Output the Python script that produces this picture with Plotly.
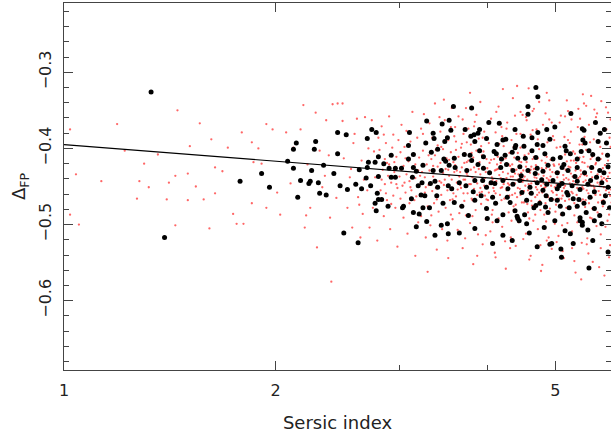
import plotly.graph_objects as go

# ---- data (Sersic index n, Delta_FP) ----
red_a = [(1.45,-0.350),(1.19,-0.368),(1.56,-0.367),(1.04,-0.434),(1.13,-0.443),(1.02,-0.375),(1.30,-0.420),(1.28,-0.443),(1.32,-0.451),(1.27,-0.466),
(1.05,-0.500),(1.02,-0.487),(1.40,-0.467),(1.44,-0.501),(1.36,-0.408),(1.22,-0.403),(1.41,-0.445),(1.50,-0.433),(1.44,-0.436),(1.51,-0.397),
(1.54,-0.450),(1.50,-0.468),(1.62,-0.388),(1.61,-0.505),(1.58,-0.467),(1.64,-0.425),(1.64,-0.459),(1.68,-0.430),(1.71,-0.399),(1.74,-0.486),
(1.76,-0.499),(1.79,-0.379),(1.85,-0.392),(1.86,-0.418),(1.80,-0.499),(1.85,-0.472),(1.89,-0.400),(1.91,-0.420),(1.94,-0.368),(1.94,-0.478),
(1.98,-0.375),(2.01,-0.458),(2.03,-0.487),(2.07,-0.379),(2.10,-0.446),(2.12,-0.399),(2.17,-0.375),(2.19,-0.343),(2.20,-0.504),(2.21,-0.488),
(2.24,-0.478),(2.29,-0.530),(2.28,-0.353),(2.31,-0.403),(2.33,-0.451),(2.36,-0.363),(2.39,-0.491),(2.40,-0.575),(2.41,-0.342),(2.45,-0.341),
(2.49,-0.364),(2.50,-0.413),(2.49,-0.341),(2.53,-0.478),(2.55,-0.438),(2.57,-0.504),(2.58,-0.393),(2.61,-0.361),(2.62,-0.464),(2.64,-0.517),
(2.65,-0.416),(2.66,-0.486),(2.68,-0.359),(2.70,-0.455),(2.71,-0.400),(2.72,-0.504),(2.74,-0.363),(2.75,-0.478),(2.77,-0.438),(2.79,-0.521),
(2.80,-0.386),(2.22,-0.421),(2.35,-0.436),(2.44,-0.465),(2.56,-0.427),(2.67,-0.441),(2.59,-0.381),(2.38,-0.409),(2.76,-0.404),(2.63,-0.474)]

red_b = [(2.81,-0.402),(2.82,-0.455),(2.83,-0.371),(2.84,-0.428),(2.85,-0.489),(2.86,-0.414),(2.86,-0.447),(2.87,-0.393),(2.88,-0.468),(2.89,-0.436),
(2.90,-0.358),(2.90,-0.421),(2.91,-0.506),(2.92,-0.445),(2.93,-0.399),(2.94,-0.462),(2.94,-0.382),(2.95,-0.431),(2.96,-0.478),(2.97,-0.411),
(2.98,-0.529),(2.98,-0.452),(2.99,-0.389),(3.00,-0.437),(3.01,-0.466),(3.01,-0.405),(3.02,-0.369),(3.03,-0.449),(3.04,-0.491),(3.04,-0.423),
(3.05,-0.398),(3.06,-0.458),(3.07,-0.434),(3.07,-0.377),(3.08,-0.512),(3.09,-0.417),(3.10,-0.472),(3.10,-0.443),(3.11,-0.391),(3.12,-0.455),
(3.13,-0.352),(3.13,-0.426),(3.14,-0.484),(3.15,-0.408),(3.16,-0.439),(3.16,-0.541),(3.17,-0.463),(3.18,-0.386),(3.19,-0.429),(3.19,-0.497),
(2.83,-0.441),(2.88,-0.419),(2.92,-0.473),(2.97,-0.447),(3.02,-0.428),(3.06,-0.413),(3.11,-0.451),(3.15,-0.468),(2.85,-0.382),(3.09,-0.395)]

red_c = [(3.20,-0.412),(3.21,-0.447),(3.22,-0.374),(3.22,-0.489),(3.23,-0.431),(3.24,-0.403),(3.25,-0.462),(3.25,-0.355),(3.26,-0.438),(3.27,-0.517),
(3.28,-0.421),(3.28,-0.392),(3.29,-0.476),(3.30,-0.448),(3.31,-0.367),(3.31,-0.429),(3.32,-0.501),(3.33,-0.414),(3.34,-0.456),(3.34,-0.386),
(3.35,-0.437),(3.36,-0.472),(3.37,-0.341),(3.37,-0.409),(3.38,-0.452),(3.39,-0.533),(3.40,-0.424),(3.40,-0.396),(3.41,-0.483),(3.42,-0.443),
(3.43,-0.378),(3.43,-0.419),(3.44,-0.461),(3.45,-0.506),(3.46,-0.432),(3.46,-0.401),(3.47,-0.448),(3.48,-0.363),(3.49,-0.427),(3.49,-0.478),
(3.50,-0.413),(3.51,-0.455),(3.52,-0.389),(3.52,-0.544),(3.53,-0.436),(3.54,-0.468),(3.55,-0.405),(3.55,-0.372),(3.56,-0.441),(3.57,-0.493),
(3.58,-0.418),(3.58,-0.459),(3.59,-0.384),(3.59,-0.431),(3.21,-0.436),(3.26,-0.458),(3.30,-0.409),(3.35,-0.423),(3.39,-0.467),(3.44,-0.398),
(3.48,-0.441),(3.53,-0.415),(3.57,-0.452),(3.24,-0.381),(3.33,-0.488),(3.42,-0.359),(3.51,-0.521),(3.56,-0.347),(3.29,-0.562),(3.47,-0.336)]

red_d = [(3.60,-0.422),(3.61,-0.463),(3.61,-0.391),(3.62,-0.445),(3.63,-0.507),(3.64,-0.411),(3.64,-0.358),(3.65,-0.437),(3.66,-0.476),(3.67,-0.399),
(3.67,-0.452),(3.68,-0.425),(3.69,-0.531),(3.70,-0.381),(3.70,-0.441),(3.71,-0.469),(3.72,-0.407),(3.73,-0.488),(3.73,-0.347),(3.74,-0.433),
(3.75,-0.459),(3.76,-0.416),(3.76,-0.374),(3.77,-0.447),(3.78,-0.498),(3.79,-0.428),(3.79,-0.395),(3.80,-0.466),(3.81,-0.438),(3.82,-0.552),
(3.82,-0.412),(3.83,-0.453),(3.84,-0.365),(3.85,-0.431),(3.85,-0.481),(3.86,-0.403),(3.87,-0.446),(3.88,-0.421),(3.88,-0.513),(3.89,-0.387),
(3.90,-0.458),(3.91,-0.434),(3.91,-0.339),(3.92,-0.473),(3.93,-0.409),(3.94,-0.444),(3.94,-0.526),(3.95,-0.426),(3.96,-0.378),(3.97,-0.462),
(3.97,-0.439),(3.98,-0.493),(3.99,-0.414),(3.99,-0.452),(3.62,-0.429),(3.66,-0.448),(3.71,-0.419),(3.75,-0.436),(3.80,-0.406),(3.84,-0.442),
(3.89,-0.427),(3.93,-0.457),(3.98,-0.431),(3.65,-0.485),(3.74,-0.392),(3.83,-0.371),(3.92,-0.397),(3.69,-0.362),(3.87,-0.541),(3.78,-0.327),
(3.63,-0.454),(3.72,-0.441),(3.81,-0.468),(3.90,-0.418),(3.96,-0.449)]

red_e = [(4.00,-0.426),(4.01,-0.468),(4.02,-0.393),(4.03,-0.447),(4.04,-0.509),(4.05,-0.415),(4.05,-0.361),(4.06,-0.438),(4.07,-0.481),(4.08,-0.404),
(4.09,-0.456),(4.10,-0.429),(4.10,-0.537),(4.11,-0.379),(4.12,-0.443),(4.13,-0.472),(4.14,-0.411),(4.15,-0.492),(4.15,-0.345),(4.16,-0.435),
(4.17,-0.461),(4.18,-0.419),(4.19,-0.372),(4.20,-0.451),(4.20,-0.503),(4.21,-0.431),(4.22,-0.397),(4.23,-0.466),(4.24,-0.441),(4.25,-0.558),
(4.25,-0.413),(4.26,-0.455),(4.27,-0.366),(4.28,-0.433),(4.29,-0.484),(4.30,-0.406),(4.30,-0.448),(4.31,-0.423),(4.32,-0.517),(4.33,-0.389),
(4.34,-0.461),(4.35,-0.437),(4.35,-0.334),(4.36,-0.476),(4.37,-0.412),(4.38,-0.446),(4.39,-0.528),(4.40,-0.428),(4.40,-0.381),(4.41,-0.464),
(4.42,-0.441),(4.43,-0.497),(4.44,-0.417),(4.45,-0.453),(4.46,-0.399),(4.47,-0.432),(4.48,-0.471),(4.49,-0.356),(4.49,-0.444),(4.03,-0.431),
(4.08,-0.452),(4.13,-0.421),(4.18,-0.439),(4.23,-0.409),(4.28,-0.446),(4.33,-0.427),(4.38,-0.459),(4.43,-0.434),(4.47,-0.418),(4.06,-0.487),
(4.16,-0.394),(4.26,-0.374),(4.36,-0.398),(4.46,-0.352),(4.11,-0.543),(4.31,-0.531),(4.21,-0.322),(4.41,-0.318),(4.02,-0.458),(4.12,-0.428),
(4.22,-0.447),(4.32,-0.437),(4.42,-0.452),(4.09,-0.414),(4.19,-0.468),(4.29,-0.421),(4.39,-0.474),(4.48,-0.441)]

red_f = [(4.50,-0.429),(4.51,-0.471),(4.52,-0.396),(4.53,-0.449),(4.54,-0.512),(4.55,-0.418),(4.55,-0.363),(4.56,-0.441),(4.57,-0.484),(4.58,-0.407),
(4.59,-0.459),(4.60,-0.432),(4.61,-0.541),(4.61,-0.382),(4.62,-0.446),(4.63,-0.475),(4.64,-0.414),(4.65,-0.495),(4.66,-0.348),(4.67,-0.438),
(4.68,-0.464),(4.69,-0.422),(4.70,-0.375),(4.71,-0.454),(4.72,-0.506),(4.73,-0.434),(4.74,-0.401),(4.75,-0.469),(4.76,-0.444),(4.77,-0.561),
(4.78,-0.416),(4.79,-0.458),(4.80,-0.369),(4.81,-0.436),(4.82,-0.487),(4.83,-0.409),(4.84,-0.451),(4.85,-0.426),(4.86,-0.521),(4.87,-0.392),
(4.88,-0.464),(4.89,-0.441),(4.90,-0.337),(4.91,-0.479),(4.92,-0.415),(4.93,-0.449),(4.94,-0.532),(4.95,-0.431),(4.96,-0.384),(4.97,-0.467),
(4.98,-0.444),(4.99,-0.499),(4.52,-0.437),(4.57,-0.455),(4.62,-0.424),(4.67,-0.443),(4.72,-0.413),(4.77,-0.449),(4.82,-0.431),(4.87,-0.462),
(4.92,-0.437),(4.97,-0.421),(4.54,-0.359),(4.64,-0.376),(4.74,-0.339),(4.84,-0.354),(4.94,-0.366),(4.59,-0.546),(4.79,-0.553),(4.89,-0.517),
(4.58,-0.321),(4.86,-0.327),(4.51,-0.456),(4.61,-0.428),(4.71,-0.461),(4.81,-0.446),(4.91,-0.428),(4.99,-0.451),(4.56,-0.473),(4.66,-0.411),
(4.76,-0.481),(4.86,-0.439),(4.96,-0.458),(4.69,-0.451),(4.84,-0.472)]

red_g = [(5.00,-0.432),(5.01,-0.474),(5.02,-0.399),(5.04,-0.452),(5.05,-0.515),(5.06,-0.421),(5.07,-0.366),(5.08,-0.444),(5.09,-0.487),(5.10,-0.411),
(5.12,-0.462),(5.13,-0.435),(5.14,-0.544),(5.15,-0.385),(5.16,-0.449),(5.18,-0.478),(5.19,-0.417),(5.20,-0.498),(5.21,-0.351),(5.22,-0.441),
(5.23,-0.467),(5.25,-0.425),(5.26,-0.378),(5.27,-0.457),(5.28,-0.509),(5.29,-0.437),(5.30,-0.404),(5.32,-0.472),(5.33,-0.447),(5.34,-0.563),
(5.35,-0.419),(5.36,-0.461),(5.38,-0.372),(5.39,-0.439),(5.40,-0.491),(5.41,-0.412),(5.42,-0.454),(5.43,-0.429),(5.45,-0.524),(5.46,-0.395),
(5.47,-0.467),(5.48,-0.444),(5.49,-0.341),(5.03,-0.438),(5.11,-0.456),(5.17,-0.428),(5.24,-0.446),(5.31,-0.416),(5.37,-0.452),(5.44,-0.434),
(5.06,-0.466),(5.14,-0.441),(5.22,-0.424),(5.29,-0.459),(5.36,-0.441),(5.43,-0.469),(5.09,-0.357),(5.19,-0.337),(5.27,-0.362),(5.39,-0.348),
(5.47,-0.329),(5.12,-0.535),(5.32,-0.548),(5.44,-0.572),(5.02,-0.461),(5.16,-0.469),(5.26,-0.433),(5.35,-0.478),(5.48,-0.453),(5.21,-0.389),
(5.41,-0.395),(5.08,-0.398),(5.33,-0.407),(5.46,-0.418),(5.13,-0.423)]

red_h = [(5.50,-0.435),(5.51,-0.477),(5.53,-0.402),(5.54,-0.455),(5.55,-0.518),(5.56,-0.424),(5.58,-0.369),(5.59,-0.447),(5.60,-0.491),(5.61,-0.414),
(5.63,-0.465),(5.64,-0.438),(5.65,-0.549),(5.67,-0.388),(5.68,-0.452),(5.69,-0.481),(5.70,-0.421),(5.72,-0.502),(5.73,-0.354),(5.74,-0.445),
(5.75,-0.471),(5.77,-0.428),(5.78,-0.381),(5.79,-0.461),(5.80,-0.513),(5.82,-0.441),(5.83,-0.407),(5.84,-0.476),(5.86,-0.451),(5.87,-0.567),
(5.88,-0.422),(5.89,-0.464),(5.91,-0.375),(5.92,-0.443),(5.93,-0.495),(5.94,-0.416),(5.96,-0.458),(5.97,-0.432),(5.98,-0.527),(5.99,-0.398),
(6.01,-0.471),(6.02,-0.448),(5.52,-0.442),(5.57,-0.459),(5.62,-0.431),(5.66,-0.449),(5.71,-0.419),(5.76,-0.456),(5.81,-0.437),(5.85,-0.468),
(5.90,-0.441),(5.95,-0.426),(6.00,-0.454),(5.53,-0.344),(5.62,-0.331),(5.71,-0.359),(5.81,-0.338),(5.90,-0.346),(5.99,-0.362),(5.57,-0.538),
(5.77,-0.556),(5.96,-0.543),(5.52,-0.468),(5.64,-0.411),(5.74,-0.484),(5.84,-0.426),(5.94,-0.479),(5.60,-0.392),(5.79,-0.398),(5.97,-0.386)]

red_i = [(3.52,-0.428),(3.57,-0.467),(3.61,-0.402),(3.66,-0.431),(3.70,-0.459),(3.74,-0.418),(3.79,-0.447),(3.83,-0.425),(3.87,-0.461),(3.91,-0.452),
(3.95,-0.404),(3.99,-0.467),(4.03,-0.419),(4.07,-0.441),(4.11,-0.459),(4.14,-0.427),(4.18,-0.452),(4.22,-0.414),(4.26,-0.439),(4.30,-0.462),
(4.34,-0.421),(4.38,-0.433),(4.42,-0.406),(4.46,-0.461),(4.50,-0.441),(4.54,-0.424),(4.58,-0.447),(4.62,-0.469),(4.66,-0.427),(4.70,-0.439),
(4.74,-0.458),(4.78,-0.426),(4.82,-0.452),(4.86,-0.411),(4.90,-0.443),(4.94,-0.456),(4.98,-0.423),(5.02,-0.448),(5.06,-0.431),(5.10,-0.466),
(5.14,-0.452),(5.18,-0.439),(5.22,-0.458),(5.26,-0.416),(5.30,-0.443),(5.34,-0.429),(5.38,-0.466),(5.42,-0.437),(5.46,-0.451),(5.50,-0.419),
(5.54,-0.436),(5.58,-0.472),(5.62,-0.449),(5.66,-0.426),(5.70,-0.461),(5.74,-0.434),(5.78,-0.448),(5.82,-0.469),(5.86,-0.439),(5.90,-0.455),
(5.94,-0.437),(5.98,-0.462),(3.55,-0.487),(3.68,-0.394),(3.81,-0.489),(3.94,-0.386),(4.07,-0.497),(4.20,-0.384),(4.33,-0.495),(4.46,-0.381),
(4.59,-0.492),(4.72,-0.388),(4.85,-0.496),(4.98,-0.389),(5.11,-0.501),(5.24,-0.393),(5.37,-0.497),(5.50,-0.385),(5.63,-0.492),(5.76,-0.391),
(5.89,-0.503),(6.02,-0.419),(3.60,-0.372),(3.86,-0.356),(4.12,-0.352),(4.38,-0.357),(4.64,-0.351),(4.90,-0.362),(5.16,-0.358),(5.42,-0.361),
(5.68,-0.349),(5.94,-0.353),(3.72,-0.518),(3.98,-0.514),(4.24,-0.522),(4.50,-0.519),(4.76,-0.527),(5.02,-0.523),(5.28,-0.531),(5.54,-0.526),
(5.80,-0.531),(6.03,-0.512),(4.36,-0.481),(4.52,-0.409),(4.68,-0.487),(4.84,-0.419),(5.00,-0.483),(5.16,-0.408),(5.32,-0.488),(5.48,-0.411),
(5.64,-0.479),(5.80,-0.414),(5.96,-0.487),(3.44,-0.445),(3.38,-0.402),(3.27,-0.451),(3.16,-0.421),(3.05,-0.445),(2.95,-0.418),(2.87,-0.459)]

black_low = [(1.33,-0.326),(1.39,-0.517),(1.78,-0.443),(1.91,-0.433),(1.96,-0.451),(2.08,-0.417),(2.12,-0.401),(2.14,-0.393),(2.12,-0.426),(2.15,-0.464),
(2.17,-0.442),(2.23,-0.446),(2.24,-0.443),(2.25,-0.429),(2.27,-0.401),(2.28,-0.391),(2.30,-0.445),(2.31,-0.459),(2.34,-0.422),(2.36,-0.461),
(2.42,-0.433),(2.45,-0.379),(2.45,-0.407),(2.47,-0.449),(2.50,-0.511),(2.52,-0.382),(2.53,-0.454),(2.60,-0.447),(2.62,-0.524),(2.63,-0.428),
(2.65,-0.453),(2.69,-0.439),(2.70,-0.387),(2.70,-0.425),(2.71,-0.418),(2.73,-0.449),(2.74,-0.375),(2.77,-0.418),(2.77,-0.472),(2.78,-0.379),
(2.78,-0.482),(2.79,-0.459),(2.80,-0.411),(2.80,-0.437),(2.80,-0.467)]

black_mid = [(2.83,-0.467),(2.85,-0.420),(2.89,-0.476),(2.90,-0.426),(2.92,-0.409),(2.92,-0.438),(2.96,-0.426),(2.96,-0.438),(3.02,-0.426),(3.03,-0.478),
(3.04,-0.476),(3.09,-0.396),(3.09,-0.414),(3.10,-0.379),(3.12,-0.466),(3.13,-0.438),(3.14,-0.408),(3.14,-0.425),(3.14,-0.484),(3.17,-0.430),
(3.17,-0.503),(3.19,-0.449),(3.20,-0.486),(3.22,-0.461),(3.23,-0.445),(3.24,-0.422),(3.24,-0.478),(3.26,-0.462),(3.27,-0.393),(3.28,-0.364),
(3.28,-0.496),(3.31,-0.478),(3.32,-0.446),(3.33,-0.405),(3.35,-0.380),(3.35,-0.429),(3.36,-0.387),(3.37,-0.443),(3.37,-0.514),(3.39,-0.462),
(3.40,-0.401),(3.40,-0.451),(3.44,-0.429),(3.44,-0.501),(3.45,-0.368),(3.46,-0.472),(3.47,-0.414),(3.48,-0.391),(3.49,-0.417),(3.51,-0.386),
(3.51,-0.499),(3.52,-0.449),(3.52,-0.512),(3.53,-0.363),(3.53,-0.422),(3.55,-0.376),(3.56,-0.453),(3.58,-0.345),(3.59,-0.413),(3.59,-0.471),
(3.60,-0.425),(3.65,-0.445),(3.65,-0.511),(3.68,-0.476),(3.71,-0.408),(3.72,-0.375),(3.73,-0.449),(3.74,-0.429),(3.76,-0.488),(3.78,-0.409),
(3.79,-0.384),(3.80,-0.347),(3.80,-0.416),(3.82,-0.457),(3.83,-0.382),(3.84,-0.391),(3.84,-0.442),(3.84,-0.468),(3.84,-0.505),(3.88,-0.380),
(3.88,-0.421),(3.90,-0.375),(3.90,-0.403),(3.94,-0.442),(3.95,-0.411),(3.95,-0.426),(3.99,-0.387),(3.99,-0.451),(3.99,-0.479),(3.92,-0.462)]

black_high = [(4.00,-0.492),(4.02,-0.366),(4.03,-0.432),(4.07,-0.464),(4.07,-0.525),(4.09,-0.404),(4.10,-0.446),(4.11,-0.472),(4.12,-0.407),(4.13,-0.395),
(4.13,-0.495),(4.16,-0.367),(4.18,-0.425),(4.19,-0.414),(4.21,-0.389),(4.21,-0.442),(4.21,-0.487),(4.21,-0.514),(4.24,-0.409),(4.25,-0.388),
(4.26,-0.421),(4.28,-0.453),(4.31,-0.471),(4.34,-0.405),(4.34,-0.521),(4.35,-0.429),(4.35,-0.447),(4.38,-0.375),(4.38,-0.399),(4.38,-0.482),
(4.39,-0.396),(4.41,-0.489),(4.42,-0.413),(4.42,-0.492),(4.44,-0.495),(4.45,-0.424),(4.45,-0.442),(4.48,-0.458),(4.50,-0.384),(4.51,-0.397),
(4.53,-0.413),(4.55,-0.468),(4.55,-0.499),(4.57,-0.345),(4.57,-0.355),(4.57,-0.429),(4.59,-0.511),(4.60,-0.451),(4.63,-0.386),(4.63,-0.403),
(4.66,-0.478),(4.69,-0.320),(4.69,-0.412),(4.69,-0.475),(4.71,-0.395),(4.71,-0.426),(4.71,-0.445),(4.71,-0.529),(4.72,-0.332),(4.72,-0.379),
(4.75,-0.472),(4.80,-0.396),(4.80,-0.430),(4.80,-0.455),(4.82,-0.504),(4.83,-0.407),(4.85,-0.462),(4.86,-0.375),(4.86,-0.447),(4.88,-0.422),
(4.88,-0.484),(4.91,-0.388),(4.91,-0.526),(4.94,-0.525),(4.96,-0.414),(4.96,-0.442),(4.99,-0.372),(4.99,-0.495),(4.05,-0.445),(4.27,-0.464),
(4.47,-0.436),(4.62,-0.459),(4.78,-0.441),(4.93,-0.467),(4.52,-0.487),(4.68,-0.433),(4.84,-0.477)]

black_top = [(5.03,-0.432),(5.03,-0.453),(5.03,-0.468),(5.08,-0.412),(5.08,-0.476),(5.09,-0.532),(5.10,-0.543),(5.11,-0.425),(5.11,-0.446),(5.12,-0.486),
(5.16,-0.397),(5.16,-0.508),(5.18,-0.403),(5.19,-0.458),(5.21,-0.429),(5.23,-0.478),(5.25,-0.407),(5.25,-0.512),(5.26,-0.354),(5.28,-0.449),
(5.30,-0.466),(5.30,-0.525),(5.37,-0.414),(5.37,-0.425),(5.37,-0.443),(5.37,-0.476),(5.42,-0.454),(5.42,-0.491),(5.42,-0.495),(5.44,-0.404),
(5.46,-0.374),(5.46,-0.497),(5.46,-0.501),(5.47,-0.389),(5.49,-0.376),(5.49,-0.472),(5.50,-0.432),(5.51,-0.393),(5.56,-0.447),(5.56,-0.507),
(5.58,-0.403),(5.58,-0.557),(5.60,-0.464),(5.63,-0.425),(5.65,-0.408),(5.65,-0.521),(5.68,-0.457),(5.68,-0.479),(5.68,-0.495),(5.70,-0.366),
(5.75,-0.391),(5.75,-0.414),(5.78,-0.429),(5.78,-0.488),(5.79,-0.380),(5.82,-0.445),(5.82,-0.499),(5.85,-0.471),(5.87,-0.375),(5.91,-0.393),
(5.93,-0.409),(5.94,-0.424),(5.94,-0.451),(5.94,-0.536),(5.97,-0.478),(5.06,-0.449),(5.21,-0.461),(5.33,-0.437),(5.53,-0.484),(5.72,-0.438),
(5.89,-0.462),(5.14,-0.421),(5.40,-0.467),(5.61,-0.442),(5.86,-0.432)]

fit_n = [1.0, 6.05]
fit_d = [-0.395, -0.4515]

x_ticks = [1, 2, 5]
x_minor = [3, 4, 6]
y_ticks = [-0.3, -0.4, -0.5, -0.6]
y_tick_text = ["\u22120.3", "\u22120.4", "\u22120.5", "\u22120.6"]

red = red_a + red_b + red_c + red_d + red_e + red_f + red_g + red_h + red_i
black = black_low + black_mid + black_high + black_top

fig = go.Figure()
fig.add_trace(go.Scatter(
    x=[p[0] for p in red], y=[p[1] for p in red], mode="markers",
    marker=dict(size=2.3, color="rgba(255,0,0,0.6)", line=dict(width=0)),
    hoverinfo="skip"))
fig.add_trace(go.Scatter(
    x=[p[0] for p in black], y=[p[1] for p in black], mode="markers",
    marker=dict(size=5, color="black", line=dict(width=0))))
fig.add_trace(go.Scatter(
    x=fit_n, y=fit_d, mode="lines", line=dict(color="black", width=1.2)))

axis_font = dict(family="DejaVu Sans, Liberation Sans, sans-serif", size=16, color="#222")
title_font = dict(family="DejaVu Sans, Liberation Sans, sans-serif", size=18, color="#222")

fig.update_layout(
    width=611, height=442,
    margin=dict(l=64, r=0, t=3, b=72),
    paper_bgcolor="white", plot_bgcolor="white",
    showlegend=False,
    font=axis_font,
)
fig.update_xaxes(
    type="log", range=[0, 0.778],
    tickmode="array", tickvals=x_ticks, ticktext=[str(v) for v in x_ticks],
    ticks="inside", ticklen=9, tickwidth=1, tickcolor="#444",
    minor=dict(tickmode="array", tickvals=x_minor, ticks="inside", ticklen=5,
               tickcolor="#444", showgrid=False),
    showline=True, linecolor="#444", linewidth=1, mirror="ticks",
    showgrid=False, zeroline=False,
    tickfont=axis_font, ticklabelstandoff=6,
    title=dict(text="Sersic index", font=title_font, standoff=17),
)
fig.update_yaxes(
    range=[-0.691, -0.209],
    tickmode="array", tickvals=y_ticks, ticktext=y_tick_text,
    ticks="inside", ticklen=9, tickwidth=1, tickcolor="#444",
    minor=dict(dtick=0.02, tick0=-0.3, ticks="inside", ticklen=5, tickcolor="#444", showgrid=False),
    showline=True, linecolor="#444", linewidth=1, mirror="ticks",
    showgrid=False, zeroline=False,
    tickangle=-90, tickfont=axis_font, ticklabelstandoff=6,
    title=dict(text="\u0394<sub>FP</sub>", font=title_font, standoff=5),
)

fig.write_html("out.html")
